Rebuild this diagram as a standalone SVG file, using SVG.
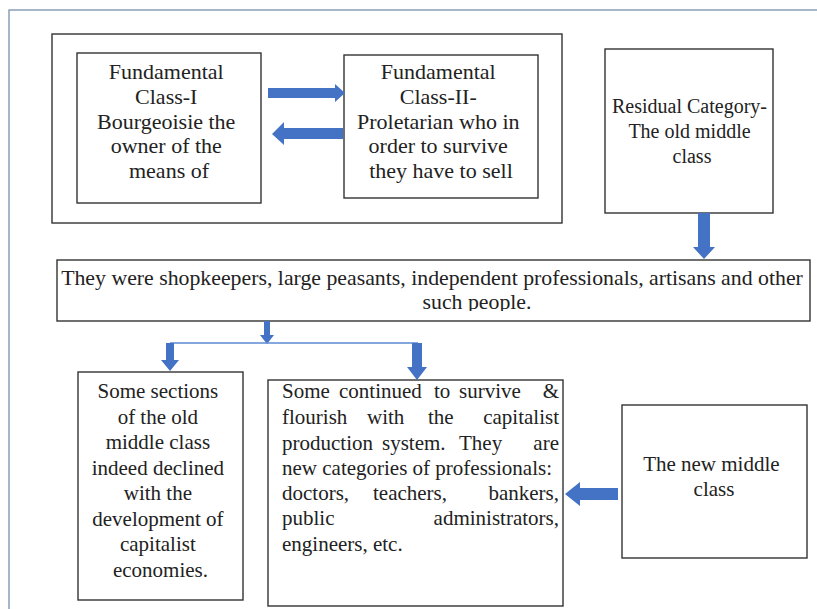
<svg xmlns="http://www.w3.org/2000/svg" width="817" height="609" viewBox="0 0 817 609">
<style>
.box{fill:#fff;stroke:#333;stroke-width:1.4}
.t{font-family:'Liberation Serif','Times New Roman',Times,'DejaVu Serif',serif;font-size:21px;fill:#222}
.c{text-anchor:middle}
.e{text-anchor:end}
.arr{fill:#4472c4}
.ln{stroke:#5b8bd3;stroke-width:1.6;fill:none}
</style>
<defs>
<clipPath id="wclip"><rect x="57" y="260" width="753" height="51"/></clipPath>
</defs>
<rect x="0" y="0" width="817" height="609" fill="#fff"/>
<rect x="9" y="10" width="900" height="700" fill="none" stroke="#8aa0b8" stroke-width="1.5"/>

<g id="group-fundamental">
<rect class="box" x="52" y="34" width="510" height="189"/>
</g>
<g id="fundamental-1">
<rect class="box" x="77" y="53" width="184" height="150"/>
<text class="t c" style="font-size:22px">
<tspan x="169" y="79">Fundamental</tspan>
<tspan x="169" y="104">Class-I</tspan>
<tspan x="169" y="129">Bourgeoisie the</tspan>
<tspan x="169" y="153">owner of the</tspan>
<tspan x="169" y="178">means of</tspan>
</text>
</g>
<g id="fundamental-2">
<rect class="box" x="344" y="55" width="194" height="143"/>
<text class="t c" style="font-size:22px">
<tspan x="441" y="79">Fundamental</tspan>
<tspan x="441" y="104">Class-II-</tspan>
<tspan x="441" y="129">Proletarian who in</tspan>
<tspan x="441" y="153">order to survive</tspan>
<tspan x="441" y="178">they have to sell</tspan>
</text>
</g>
<g id="residual">
<rect class="box" x="605" y="49" width="168" height="164"/>
<text class="t c" style="font-size:20px">
<tspan x="692" y="113">Residual Category-</tspan>
<tspan x="692" y="138">The old middle</tspan>
<tspan x="692" y="163">class</tspan>
</text>
</g>
<g id="old-middle-list">
<rect class="box" x="57" y="260" width="753" height="61"/>
<g clip-path="url(#wclip)">
<text class="t c" x="432" y="285" style="font-size:21.8px">They were shopkeepers, large peasants, independent professionals, artisans and other</text>
<text class="t c" x="477" y="309" style="font-size:21.8px">such people.</text>
</g>
</g>
<g id="declined">
<rect class="box" x="78" y="372" width="165" height="228"/>
<text class="t c">
<tspan x="160.5" y="398">Some sections</tspan>
<tspan x="160.5" y="424">of the old</tspan>
<tspan x="160.5" y="449">middle class</tspan>
<tspan x="160.5" y="475">indeed declined</tspan>
<tspan x="160.5" y="500">with the</tspan>
<tspan x="160.5" y="526">development of</tspan>
<tspan x="160.5" y="551">capitalist</tspan>
<tspan x="160.5" y="577">economies.</tspan>
</text>
</g>
<g id="survived">
<rect class="box" x="268" y="380" width="295" height="226"/>
<text class="t"><tspan x="282" y="398">Some</tspan><tspan x="339" y="398">continued</tspan><tspan x="434" y="398">to</tspan><tspan x="459" y="398">survive</tspan></text>
<text class="t e" x="559" y="398">&amp;</text>
<text class="t"><tspan x="282" y="424">flourish</tspan><tspan x="367" y="424">with</tspan><tspan x="428" y="424">the</tspan></text>
<text class="t e" x="559" y="424">capitalist</text>
<text class="t"><tspan x="282" y="450">production</tspan><tspan x="382" y="450">system.</tspan><tspan x="459" y="450">They</tspan></text>
<text class="t e" x="559" y="450">are</text>
<text class="t" x="282" y="475">new categories of professionals:</text>
<text class="t"><tspan x="282" y="500">doctors,</tspan><tspan x="373" y="500">teachers,</tspan></text>
<text class="t e" x="559" y="500">bankers,</text>
<text class="t" x="282" y="525">public</text>
<text class="t e" x="559" y="525">administrators,</text>
<text class="t" x="282" y="551">engineers, etc.</text>
</g>
<g id="new-middle">
<rect class="box" x="622" y="405" width="185" height="153"/>
<text class="t c">
<tspan x="714" y="471">The new middle</tspan>
<tspan x="714" y="496">class</tspan>
</text>
</g>

<g id="connectors">
<polygon class="arr" points="268,88 335,88 335,84 345,93 335,102 335,98 268,98"/>
<polygon class="arr" points="343,128 284,128 284,122 272,134 284,145 284,139 343,139"/>
<polygon class="arr" points="698,213 710,213 710,247 715,247 704,259 693,247 698,247"/>
<polygon class="arr" points="264,321 270,321 270,335 274,335 267,344 260,335 264,335"/>
<path class="ln" d="M170,343 H418"/>
<polygon class="arr" points="166,343 174,343 174,360 179,360 170,371 161,360 166,360"/>
<polygon class="arr" points="412,343 422,343 422,367 427,367 417,380 407,367 412,367"/>
<polygon class="arr" points="618,488 580,488 580,482 565,494 580,506 580,500 618,500"/>
</g>
</svg>
